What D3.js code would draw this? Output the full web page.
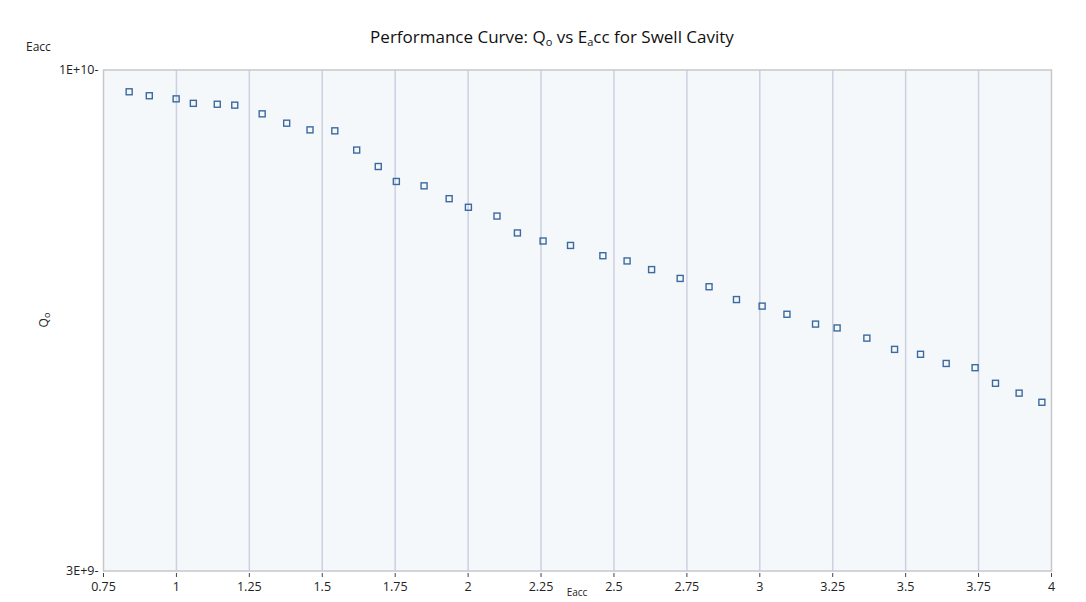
<!DOCTYPE html>
<html>
<head>
<meta charset="utf-8">
<script src="https://cdn.jsdelivr.net/npm/d3@7"></script>
<style>
  body { margin: 0; background: #fff; }
  svg { font-family: "Open Sans", "Noto Sans", sans-serif; }
</style>
</head>
<body>
<div id="chart"></div>
<script>
// Q0 vs Eacc performance curve, log y axis

const eaccValues = [0.838, 0.907, 0.999, 1.058, 1.140, 1.200, 1.294, 1.378, 1.458, 1.543,
                    1.618, 1.692, 1.754, 1.849, 1.935, 2.001, 2.099, 2.169, 2.257, 2.351,
                    2.462, 2.545, 2.629, 2.727, 2.826, 2.920, 3.008, 3.093, 3.191, 3.265,
                    3.367, 3.462, 3.551, 3.639, 3.738, 3.808, 3.889, 3.967];
const q0Values = [9.49e9, 9.40e9, 9.33e9, 9.23e9, 9.21e9, 9.19e9, 9.00e9, 8.80e9, 8.66e9, 8.64e9,
                  8.25e9, 7.93e9, 7.65e9, 7.57e9, 7.34e9, 7.19e9, 7.04e9, 6.76e9, 6.63e9, 6.56e9,
                  6.40e9, 6.32e9, 6.19e9, 6.06e9, 5.94e9, 5.76e9, 5.67e9, 5.56e9, 5.43e9, 5.38e9,
                  5.25e9, 5.11e9, 5.05e9, 4.94e9, 4.89e9, 4.71e9, 4.60e9, 4.50e9];
const xTicks = [0.75, 1, 1.25, 1.5, 1.75, 2, 2.25, 2.5, 2.75, 3, 3.25, 3.5, 3.75, 4];
const xTickLabels = ["0.75", "1", "1.25", "1.5", "1.75", "2", "2.25", "2.5", "2.75", "3", "3.25", "3.5", "3.75", "4"];
const yTicks = [3e9, 1e10];
const yTickLabels = ["3E+9", "1E+10"];

const width = 1086;
const height = 602;
const plot = { left: 103.5, right: 1051.5, top: 70, bottom: 571 };
const markerSize = 6;

const points = eaccValues.map((e, i) => ({ x: e, y: q0Values[i] }));

const xScale = d3.scaleLinear()
    .domain([0.75, 4])
    .range([plot.left, plot.right]);

const yScale = d3.scaleLog()
    .domain([3e9, 1e10])
    .range([plot.bottom, plot.top]);

const svg = d3.select("#chart")
    .append("svg")
    .attr("width", width)
    .attr("height", height);

// plot background
svg.append("rect")
    .attr("x", plot.left)
    .attr("y", plot.top)
    .attr("width", plot.right - plot.left)
    .attr("height", plot.bottom - plot.top)
    .attr("fill", "#f5f8fa");

// vertical grid
svg.append("g")
    .selectAll("line")
    .data(xTicks.slice(1, -1))
    .enter()
    .append("line")
    .attr("x1", d => xScale(d))
    .attr("x2", d => xScale(d))
    .attr("y1", plot.top)
    .attr("y2", plot.bottom)
    .attr("stroke", "#cbd0e2")
    .attr("stroke-width", 1.5);

// frame
svg.append("rect")
    .attr("x", plot.left)
    .attr("y", plot.top)
    .attr("width", plot.right - plot.left)
    .attr("height", plot.bottom - plot.top)
    .attr("fill", "none")
    .attr("stroke", "#c6c8cc")
    .attr("stroke-width", 1.5);

// x ticks and labels
const xAxis = svg.append("g").attr("class", "x-axis");
xAxis.selectAll("line")
    .data(xTicks)
    .enter()
    .append("line")
    .attr("x1", d => xScale(d))
    .attr("x2", d => xScale(d))
    .attr("y1", plot.bottom + 2)
    .attr("y2", plot.bottom + 6)
    .attr("stroke", "#444")
    .attr("stroke-width", 1);

xAxis.selectAll("text")
    .data(xTicks)
    .enter()
    .append("text")
    .attr("x", d => xScale(d))
    .attr("y", plot.bottom + 20)
    .attr("text-anchor", "middle")
    .attr("font-size", 12.5)
    .attr("fill", "#222")
    .text((d, i) => xTickLabels[i]);

// y ticks and labels
svg.append("g")
    .selectAll("text")
    .data(yTicks)
    .enter()
    .append("text")
    .attr("x", plot.left - 5)
    .attr("y", d => yScale(d) + 4)
    .attr("text-anchor", "end")
    .attr("font-size", 12.5)
    .attr("fill", "#222")
    .text((d, i) => yTickLabels[i] + "-");

// data markers
svg.append("g")
    .selectAll("rect")
    .data(points)
    .enter()
    .append("rect")
    .attr("x", d => xScale(d.x) - markerSize / 2)
    .attr("y", d => yScale(d.y) - markerSize / 2)
    .attr("width", markerSize)
    .attr("height", markerSize)
    .attr("fill", "none")
    .attr("stroke", "#3b6aa0")
    .attr("stroke-width", 1.4);

// title with subscripts
const title = svg.append("text")
    .attr("x", 552)
    .attr("y", 43)
    .attr("text-anchor", "middle")
    .attr("font-size", 17)
    .attr("fill", "#111");
title.append("tspan").text("Performance Curve: Q");
title.append("tspan").attr("font-size", 11).attr("dy", 3).text("o");
title.append("tspan").attr("dy", -3).text(" vs E");
title.append("tspan").attr("font-size", 11).attr("dy", 3).text("a");
title.append("tspan").attr("dy", -3).text("cc for Swell Cavity");

// top-left label
svg.append("text")
    .attr("x", 26)
    .attr("y", 51)
    .attr("font-size", 12)
    .attr("fill", "#222")
    .text("Eacc");

// y axis name
const yName = svg.append("text")
    .attr("transform", "translate(48,320) rotate(-90)")
    .attr("text-anchor", "middle")
    .attr("font-size", 12)
    .attr("fill", "#222");
yName.append("tspan").text("Q");
yName.append("tspan").attr("font-size", 9).attr("dy", 2).text("o");

// x axis name, sits at the very bottom edge
svg.append("text")
    .attr("x", 577)
    .attr("y", 596)
    .attr("text-anchor", "middle")
    .attr("font-size", 10)
    .attr("fill", "#222")
    .text("Eacc");
</script>
</body>
</html>
